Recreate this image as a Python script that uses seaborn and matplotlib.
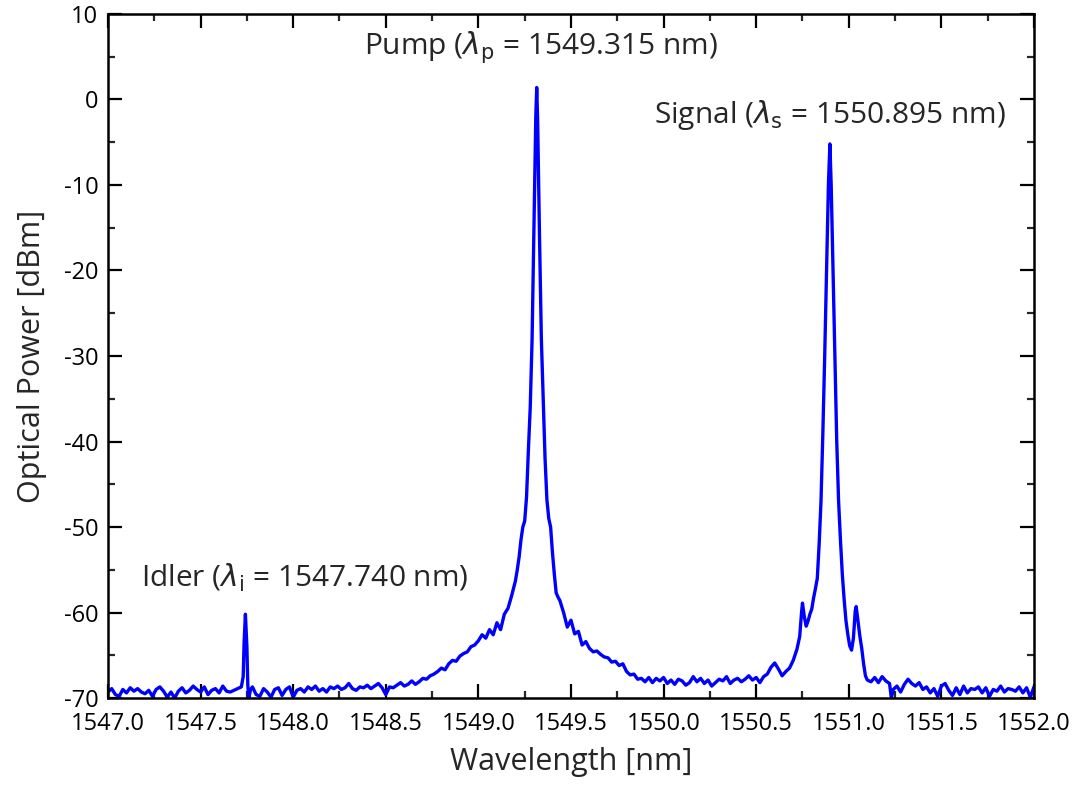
import numpy as np
import matplotlib
matplotlib.use("Agg")
import matplotlib.pyplot as plt
import seaborn as sns
from matplotlib.ticker import MultipleLocator, FormatStrFormatter

wavelength = [
    1547.00, 1547.02, 1547.04, 1547.06, 1547.08, 1547.10, 1547.12, 1547.14, 1547.16, 1547.18,
    1547.20, 1547.22, 1547.24, 1547.26, 1547.28, 1547.30, 1547.32, 1547.34, 1547.36, 1547.38,
    1547.40, 1547.42, 1547.44, 1547.46, 1547.48, 1547.50, 1547.52, 1547.54, 1547.56, 1547.58,
    1547.60, 1547.62, 1547.64, 1547.66, 1547.68, 1547.70,
    1547.72, 1547.73, 1547.735, 1547.742, 1547.75, 1547.755, 1547.76, 1547.77, 1547.78,
    1547.80, 1547.82, 1547.84, 1547.86, 1547.88, 1547.90, 1547.92, 1547.94, 1547.96, 1547.98,
    1548.00, 1548.02, 1548.04, 1548.06, 1548.08, 1548.10, 1548.12, 1548.14, 1548.16, 1548.18,
    1548.20, 1548.22, 1548.24, 1548.26, 1548.28, 1548.30, 1548.32, 1548.34, 1548.36, 1548.38,
    1548.40, 1548.42, 1548.44, 1548.46, 1548.48, 1548.50, 1548.52, 1548.54, 1548.56, 1548.58,
    1548.60, 1548.62, 1548.64, 1548.66, 1548.68, 1548.70, 1548.72, 1548.74, 1548.76, 1548.78,
    1548.80, 1548.82, 1548.84, 1548.86, 1548.88, 1548.90, 1548.92, 1548.94, 1548.96, 1548.98,
    1549.00, 1549.02, 1549.04, 1549.06, 1549.08, 1549.10, 1549.12, 1549.14, 1549.16, 1549.18,
    1549.20, 1549.21, 1549.22, 1549.23, 1549.24, 1549.25, 1549.26, 1549.27, 1549.28, 1549.29,
    1549.30, 1549.31, 1549.315, 1549.32, 1549.33, 1549.34, 1549.35, 1549.36, 1549.37, 1549.38,
    1549.39, 1549.40, 1549.41, 1549.42, 1549.43, 1549.44, 1549.46, 1549.48, 1549.50, 1549.52,
    1549.54, 1549.56, 1549.58, 1549.60, 1549.62, 1549.64, 1549.66, 1549.68, 1549.70, 1549.72,
    1549.74, 1549.76, 1549.78, 1549.80, 1549.82, 1549.84, 1549.86, 1549.88, 1549.90, 1549.92,
    1549.94, 1549.96, 1549.98, 1550.00, 1550.02, 1550.04, 1550.06, 1550.08, 1550.10, 1550.12,
    1550.14, 1550.16, 1550.18, 1550.20, 1550.22, 1550.24, 1550.26, 1550.28, 1550.30, 1550.32,
    1550.34, 1550.36, 1550.38, 1550.40, 1550.42, 1550.44, 1550.46, 1550.48, 1550.50, 1550.52,
    1550.54, 1550.56, 1550.58, 1550.60, 1550.62, 1550.64, 1550.66, 1550.68, 1550.70, 1550.72,
    1550.735, 1550.745, 1550.75, 1550.76, 1550.77, 1550.78, 1550.79, 1550.80, 1550.81, 1550.82,
    1550.83, 1550.84, 1550.85, 1550.86, 1550.87, 1550.88, 1550.89, 1550.898, 1550.905, 1550.915,
    1550.925, 1550.935, 1550.945, 1550.955, 1550.965, 1550.975, 1550.985, 1550.995, 1551.005, 1551.015,
    1551.025, 1551.035, 1551.04, 1551.05, 1551.06, 1551.07, 1551.08, 1551.09, 1551.10, 1551.12,
    1551.14, 1551.16, 1551.18, 1551.20, 1551.22, 1551.23, 1551.24, 1551.26, 1551.28, 1551.30,
    1551.32, 1551.34, 1551.36, 1551.38, 1551.40, 1551.42, 1551.44, 1551.46, 1551.48, 1551.50,
    1551.52, 1551.54, 1551.56, 1551.58, 1551.60, 1551.62, 1551.64, 1551.66, 1551.68, 1551.70,
    1551.72, 1551.74, 1551.76, 1551.78, 1551.80, 1551.82, 1551.84, 1551.86, 1551.88, 1551.90,
    1551.92, 1551.94, 1551.96, 1551.98, 1552.00,
]

power_dbm = [
    -69.3, -68.9, -69.6, -69.8, -69.0, -69.4, -68.8, -69.2, -68.9, -69.3,
    -69.5, -69.1, -69.8, -69.0, -68.7, -69.2, -69.9, -69.3, -70.0, -69.2,
    -68.8, -69.4, -69.1, -68.6, -69.0, -69.3, -68.7, -69.6, -69.1, -68.9,
    -69.4, -68.6, -69.2, -69.3, -69.1, -68.9,
    -68.7, -67.5, -63.5, -60.2, -64.0, -68.5, -70.0, -69.0, -68.7,
    -69.6, -69.8, -68.9, -69.3, -69.9, -69.0, -68.8, -69.7, -69.0, -68.7,
    -69.9, -69.1, -68.9, -69.3, -68.7, -69.0, -68.6, -69.2, -68.9, -69.3,
    -68.7, -68.9, -68.6, -69.0, -68.8, -68.3, -68.9, -69.1, -68.7, -68.8,
    -68.5, -68.9, -68.6, -68.3, -68.8, -69.6, -68.7, -68.8, -68.5, -68.2,
    -68.6, -68.4, -68.0, -68.4, -68.1, -67.7, -67.8, -67.4, -67.2, -66.9,
    -66.5, -66.7, -66.0, -65.6, -65.7, -65.1, -64.8, -64.6, -64.0, -63.8,
    -63.3, -62.6, -63.0, -62.0, -62.6, -61.2, -62.0, -60.2, -59.5, -58.0,
    -56.3, -55.0, -53.5, -51.5, -50.0, -49.3, -46.5, -41.0, -36.0, -28.0,
    -15.0, -2.0, 1.4, -2.5, -16.0, -28.0, -35.0, -42.0, -46.8, -49.0,
    -50.0, -53.0, -55.5, -57.7, -58.2, -58.6, -60.0, -61.7, -60.9, -62.5,
    -62.2, -63.8, -63.4, -64.2, -64.6, -64.5, -64.9, -65.2, -65.3, -65.8,
    -65.7, -66.2, -66.0, -66.9, -67.3, -67.2, -67.8, -67.7, -68.1, -67.6,
    -68.2, -67.7, -68.0, -67.6, -68.3, -67.9, -68.4, -67.8, -68.0, -68.5,
    -68.2, -67.5, -68.1, -67.7, -68.3, -67.9, -68.6, -68.2, -67.8, -68.0,
    -67.5, -68.3, -67.9, -67.7, -68.1, -67.8, -67.4, -67.9, -67.6, -68.2,
    -67.5, -67.2, -66.4, -65.9, -66.6, -67.4, -66.9, -66.5, -65.6, -64.3,
    -62.8, -60.0, -58.9, -60.5, -61.6, -61.0, -60.2, -59.6, -58.3, -57.2,
    -56.0, -52.0, -47.0, -39.0, -30.0, -20.0, -10.0, -5.2, -10.0, -20.0,
    -30.0, -40.0, -47.0, -51.5, -55.5, -58.5, -61.0, -62.6, -63.9, -64.4,
    -63.0, -59.8, -59.3, -61.0, -62.8, -64.2, -66.0, -67.4, -67.9, -68.1,
    -67.6, -68.2, -67.5, -68.0, -68.3, -70.0, -69.0, -68.6, -69.3, -68.4,
    -67.8, -68.3, -68.6, -68.2, -69.0, -68.7, -69.4, -68.9, -69.8, -68.6,
    -68.3, -69.1, -69.7, -68.8, -69.6, -68.6, -69.4, -68.9, -69.0, -68.7,
    -69.4, -68.8, -69.8, -69.0, -69.2, -68.6, -69.3, -68.9, -69.0, -69.2,
    -68.7, -69.4, -68.8, -69.9, -68.7,
]

x_ticks = [1547.0, 1547.5, 1548.0, 1548.5, 1549.0, 1549.5, 1550.0, 1550.5, 1551.0, 1551.5, 1552.0]
y_ticks = [-70, -60, -50, -40, -30, -20, -10, 0, 10]

sns.set_theme(style="ticks")
plt.rcParams["font.family"] = ["Open Sans", "DejaVu Sans"]
plt.rcParams["axes.unicode_minus"] = False
plt.rcParams["mathtext.fontset"] = "dejavusans"

fig = plt.figure(figsize=(10.81, 7.85), dpi=100)
ax = fig.add_axes([0.0999, 0.1108, 0.8566, 0.8714])

sns.lineplot(x=wavelength, y=power_dbm, ax=ax, color="#0000FF", linewidth=2.4,
             estimator=None, sort=False)

ax.set_xlim(1547.0, 1552.0)
ax.set_ylim(-70, 10)
ax.set_xticks(x_ticks)
ax.set_yticks(y_ticks)
ax.xaxis.set_major_formatter(FormatStrFormatter("%.1f"))
ax.xaxis.set_minor_locator(MultipleLocator(0.25))
ax.yaxis.set_minor_locator(MultipleLocator(5))
ax.tick_params(axis="both", which="major", direction="in", length=10, width=1.6,
               labelsize=17, top=True, right=True, colors="black")
ax.tick_params(axis="x", which="major", pad=10)
ax.tick_params(axis="y", which="major", pad=7)
ax.tick_params(axis="both", which="minor", direction="in", length=5, width=1.6,
               top=True, right=True)
for sp in ax.spines.values():
    sp.set_linewidth(1.8)
    sp.set_color("black")
    sp.set_visible(True)

ax.set_xlabel("Wavelength [nm]", fontsize=22, labelpad=8)
ax.set_ylabel("Optical Power [dBm]", fontsize=22, labelpad=12)

ax.text(1549.338, 6.1, r"Pump ($\lambda_\mathrm{p}$ = 1549.315 nm)", ha="center", va="center", fontsize=21.5)
ax.text(1550.898, -1.8, r"Signal ($\lambda_\mathrm{s}$ = 1550.895 nm)", ha="center", va="center", fontsize=21.5)
ax.text(1548.06, -56.0, r"Idler ($\lambda_\mathrm{i}$ = 1547.740 nm)", ha="center", va="center", fontsize=21.5)

fig.savefig("out.png", dpi=100)
